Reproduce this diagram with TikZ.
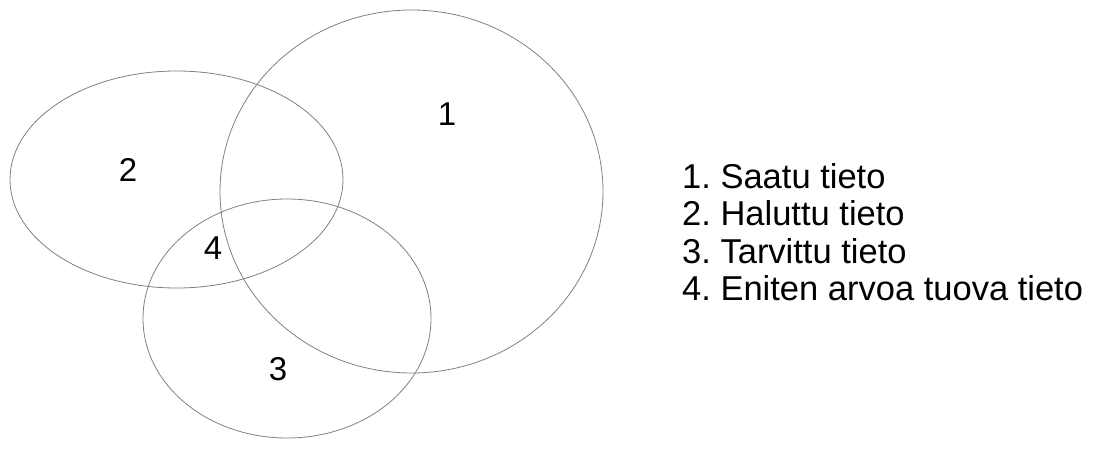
\documentclass[tikz,border=0pt]{standalone}
\usepackage{fontspec}
\setmainfont{Liberation Sans}
\usetikzlibrary{shapes.geometric}
\frenchspacing
\begin{document}
\begin{tikzpicture}[x=1pt,y=-1pt,
  setline/.style={draw=black!50,line width=0.8pt,ellipse,inner sep=0pt},
  num/.style={font=\fontsize{33}{37}\selectfont,inner sep=0pt},
  legend/.style={font=\fontsize{34.5}{38}\selectfont,inner sep=0pt,anchor=base west}]
\useasboundingbox (0,0) rectangle (1101,466);
\node[setline,minimum width=383pt,minimum height=363pt] (e1) at (411.5,191.5) {};
\node[setline,minimum width=333pt,minimum height=217pt] (e2) at (176.5,179.5) {};
\node[setline,minimum width=288pt,minimum height=239pt] (e3) at (287,318.5) {};
\node[num] (n1) at (447,114) {1};
\node[num] (n2) at (128,170) {2};
\node[num] (n4) at (213,248) {4};
\node[num] (n3) at (278,369) {3};
\node[legend] (l1) at (682,188) {1. Saatu tieto};
\node[legend] (l2) at (682,225.5) {2. Haluttu tieto};
\node[legend] (l3) at (682,263) {3. Tarvittu tieto};
\node[legend] (l4) at (682,300.5) {4. Eniten arvoa tuova tieto};
\end{tikzpicture}
\end{document}
